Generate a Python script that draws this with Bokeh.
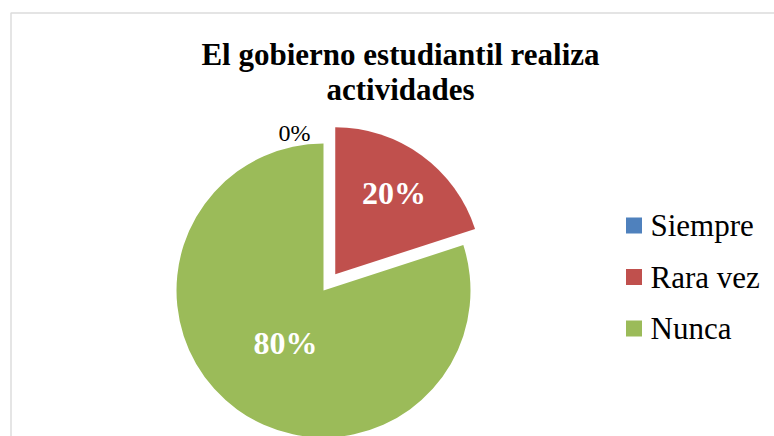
import math
from bokeh.plotting import figure
from bokeh.models import Range1d, BoxAnnotation
from bokeh.core.properties import value
from bokeh.embed import file_html
from bokeh.resources import INLINE

# ---- data ----
title_lines = ["El gobierno estudiantil realiza", "actividades"]
categories = ["Siempre", "Rara vez", "Nunca"]
values = [0, 20, 80]
colors = ["#4F81BD", "#C0504D", "#9BBB59"]

W, H = 774, 436
p = figure(width=W, height=H, output_backend="svg", toolbar_location=None,
           x_range=Range1d(0, W), y_range=Range1d(0, H), min_border=0)
p.axis.visible = False
p.xgrid.visible = False
p.ygrid.visible = False
p.outline_line_color = None
p.background_fill_color = "white"

# chart-area border (only left/top visible in the crop)
p.add_layout(BoxAnnotation(left=10.5, right=W + 50, top=H - 12.5, bottom=-50,
                           fill_color=None, line_color="#8c8c8c", line_width=1.5))

serif = value("Liberation Serif")

# title
for i, t in enumerate(title_lines):
    p.text(x=[400], y=[382 - 35 * i], text=[t], text_font=serif, text_font_size="31px",
           text_font_style="bold", text_align="center", text_baseline="middle",
           text_color="black")

# pie
cx, cy, r = 323, 146, 147
explode = [0, 20, 0]
total = sum(values)
cum = 0.0
wx, wy, sa, ea, cols = [], [], [], [], []
lab_x, lab_y, lab_t = [], [], []
zero_x, zero_y, zero_t = [], [], []
for v, c, ex in zip(values, colors, explode):
    a0 = math.pi / 2 - 2 * math.pi * cum / total
    a1 = math.pi / 2 - 2 * math.pi * (cum + v) / total
    mid = (a0 + a1) / 2
    ox, oy = cx + ex * math.cos(mid), cy + ex * math.sin(mid)
    pct = f"{round(100 * v / total)}%"
    if v > 0:
        wx.append(ox); wy.append(oy); sa.append(a1); ea.append(a0); cols.append(c)
        f = 0.68 if v / total < 0.5 else 0.44
        lab_x.append(ox + f * r * math.cos(mid)); lab_y.append(oy + f * r * math.sin(mid))
        lab_t.append(pct)
    else:
        zero_x.append(ox + 1.07 * r * math.cos(mid)); zero_y.append(oy + 1.07 * r * math.sin(mid))
        zero_t.append(pct)
    cum += v

p.wedge(x=wx, y=wy, radius=r, start_angle=sa, end_angle=ea, fill_color=cols,
        line_color=None)
p.text(x=lab_x, y=lab_y, text=lab_t, text_font=serif, text_font_size="32px",
       text_font_style="bold", text_color="white", text_align="center",
       text_baseline="middle")
p.text(x=zero_x, y=zero_y, text=zero_t, text_font=serif, text_font_size="24px",
       text_color="black", text_align="right", text_baseline="middle", x_offset=-13)

# legend
lx, ly0, step = 633.5, 211, 51.5
leg_y = [ly0 - step * i for i in range(len(categories))]
p.scatter(x=[lx] * len(categories), y=leg_y, marker="square", size=16,
          fill_color=colors, line_color=None)
p.text(x=[lx + 16.5] * len(categories), y=leg_y, text=categories, text_font=serif,
       text_font_size="31px", text_color="black", text_align="left",
       text_baseline="middle")

open("out.html", "w").write(file_html(p, INLINE))
